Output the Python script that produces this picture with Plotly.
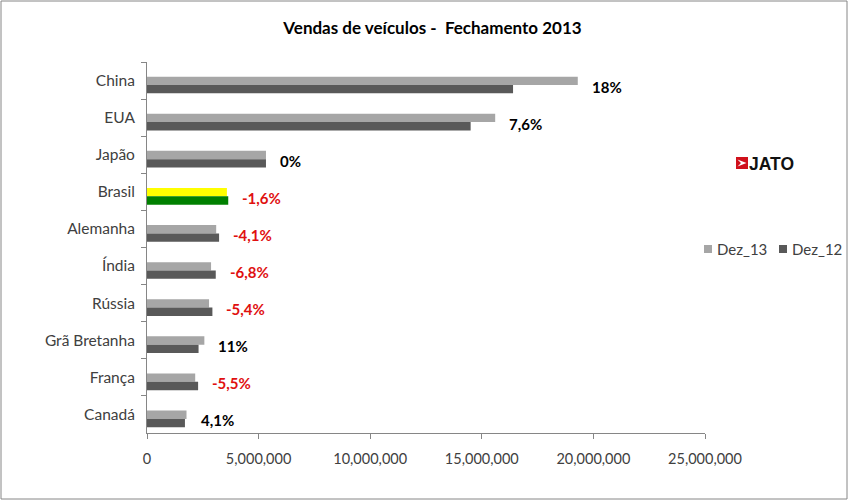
import plotly.graph_objects as go

# Dados
paises = ["China", "EUA", "Japão", "Brasil", "Alemanha", "Índia", "Rússia",
          "Grã Bretanha", "França", "Canadá"]
dez_13 = [19300000, 15600000, 5330000, 3580000, 3100000, 2870000, 2780000,
          2570000, 2160000, 1770000]
dez_12 = [16400000, 14500000, 5330000, 3640000, 3230000, 3080000, 2930000,
          2310000, 2290000, 1700000]
variacao = ["18%", "7,6%", "0%", "-1,6%", "-4,1%", "-6,8%", "-5,4%",
            "11%", "-5,5%", "4,1%"]

CINZA_13, CINZA_12 = "#A6A6A6", "#595959"
cor_13 = ["#FFFF00" if p == "Brasil" else CINZA_13 for p in paises]
cor_12 = ["#008000" if p == "Brasil" else CINZA_12 for p in paises]

W, H = 848, 500
ml, mr, mt, mb = 147, 143, 62, 67
pw, ph = W - ml - mr, H - mt - mb

def px(x):
    return (x - ml) / pw

def py(y):
    return (H - mb - y) / ph

fig = go.Figure()

# barras ficam um pouco abaixo do centro da categoria, como no Excel
larg = 0.225
fig.add_trace(go.Bar(
    y=paises, x=dez_13, orientation="h", name="Dez_13",
    width=larg, offset=0.12 - larg,
    marker=dict(color=cor_13, line=dict(width=0)),
))
fig.add_trace(go.Bar(
    y=paises, x=dez_12, orientation="h", name="Dez_12",
    width=larg, offset=0.12,
    marker=dict(color=cor_12, line=dict(width=0)),
))

# Rótulos de variação
for p, a, b, v in zip(paises, dez_13, dez_12, variacao):
    fig.add_annotation(
        x=max(a, b), y=p, text="<b>" + v + "</b>", showarrow=False,
        xanchor="left", yanchor="middle", xshift=12, yshift=-6,
        font=dict(size=15, color="#E01010" if v.startswith("-") else "#000000",
                  family="Lato"),
    )

# Legenda (desenhada à mão para ficar compacta como no Excel)
for nome, cor, x0 in [("Dez_13", CINZA_13, 704), ("Dez_12", CINZA_12, 779)]:
    fig.add_shape(type="rect", xref="paper", yref="paper",
                  x0=px(x0), x1=px(x0 + 8), y0=py(253), y1=py(245),
                  fillcolor=cor, line=dict(width=0))
    fig.add_annotation(xref="paper", yref="paper", x=px(x0 + 11), y=py(249),
                       text=nome, showarrow=False, xanchor="left",
                       yanchor="middle",
                       font=dict(size=15, color="#404040", family="Lato"))

# Logo JATO (aproximado)
fig.add_shape(type="rect", xref="paper", yref="paper",
              x0=px(736), x1=px(748), y0=py(169), y1=py(157),
              fillcolor="#D0101B", line=dict(width=0))
fig.add_shape(type="path", xref="paper", yref="paper",
              path=f"M {px(737.5)},{py(159.5)} L {px(746.5)},{py(163)} L {px(737.5)},{py(166.5)} L {px(741)},{py(163)} Z",
              fillcolor="white", line=dict(width=0))
fig.add_annotation(xref="paper", yref="paper", x=px(747), y=py(163.5),
                   text="<b>JATO</b>", showarrow=False, xanchor="left",
                   yanchor="middle",
                   font=dict(size=17.5, color="#111111", family="Liberation Sans"))

# Borda
fig.add_shape(type="rect", xref="paper", yref="paper",
              x0=px(1), x1=px(W - 1), y0=py(H - 1), y1=py(1),
              line=dict(color="#868686", width=1))

fig.update_layout(
    width=W, height=H,
    margin=dict(l=ml, r=mr, t=mt, b=mb, autoexpand=False),
    paper_bgcolor="white", plot_bgcolor="white",
    barmode="group", showlegend=False,
    font=dict(family="Lato", size=15.5, color="#404040"),
    title=dict(text="<b>Vendas de veículos -  Fechamento 2013</b>",
               x=0.51, xanchor="center", y=0.943, yanchor="middle",
               font=dict(size=17, color="#000000", family="Lato")),
    xaxis=dict(range=[0, 25000000], tickvals=[0, 5000000, 10000000, 15000000,
                                               20000000, 25000000],
               tickformat=",d", showgrid=False, zeroline=False,
               showline=True, linecolor="#868686", ticks="outside",
               ticklen=5, tickcolor="#868686", automargin=False,
               ticklabelstandoff=8, tickfont=dict(size=14.5)),
    yaxis=dict(autorange="reversed", showgrid=False, zeroline=False,
               showline=True, linecolor="#868686", ticks="outside",
               tickson="boundaries", ticklen=5, tickcolor="#868686",
               ticklabelstandoff=8, automargin=False),
)

fig.write_html("out.html", config={"displayModeBar": False},
               post_script="document.body.style.margin='0';")
